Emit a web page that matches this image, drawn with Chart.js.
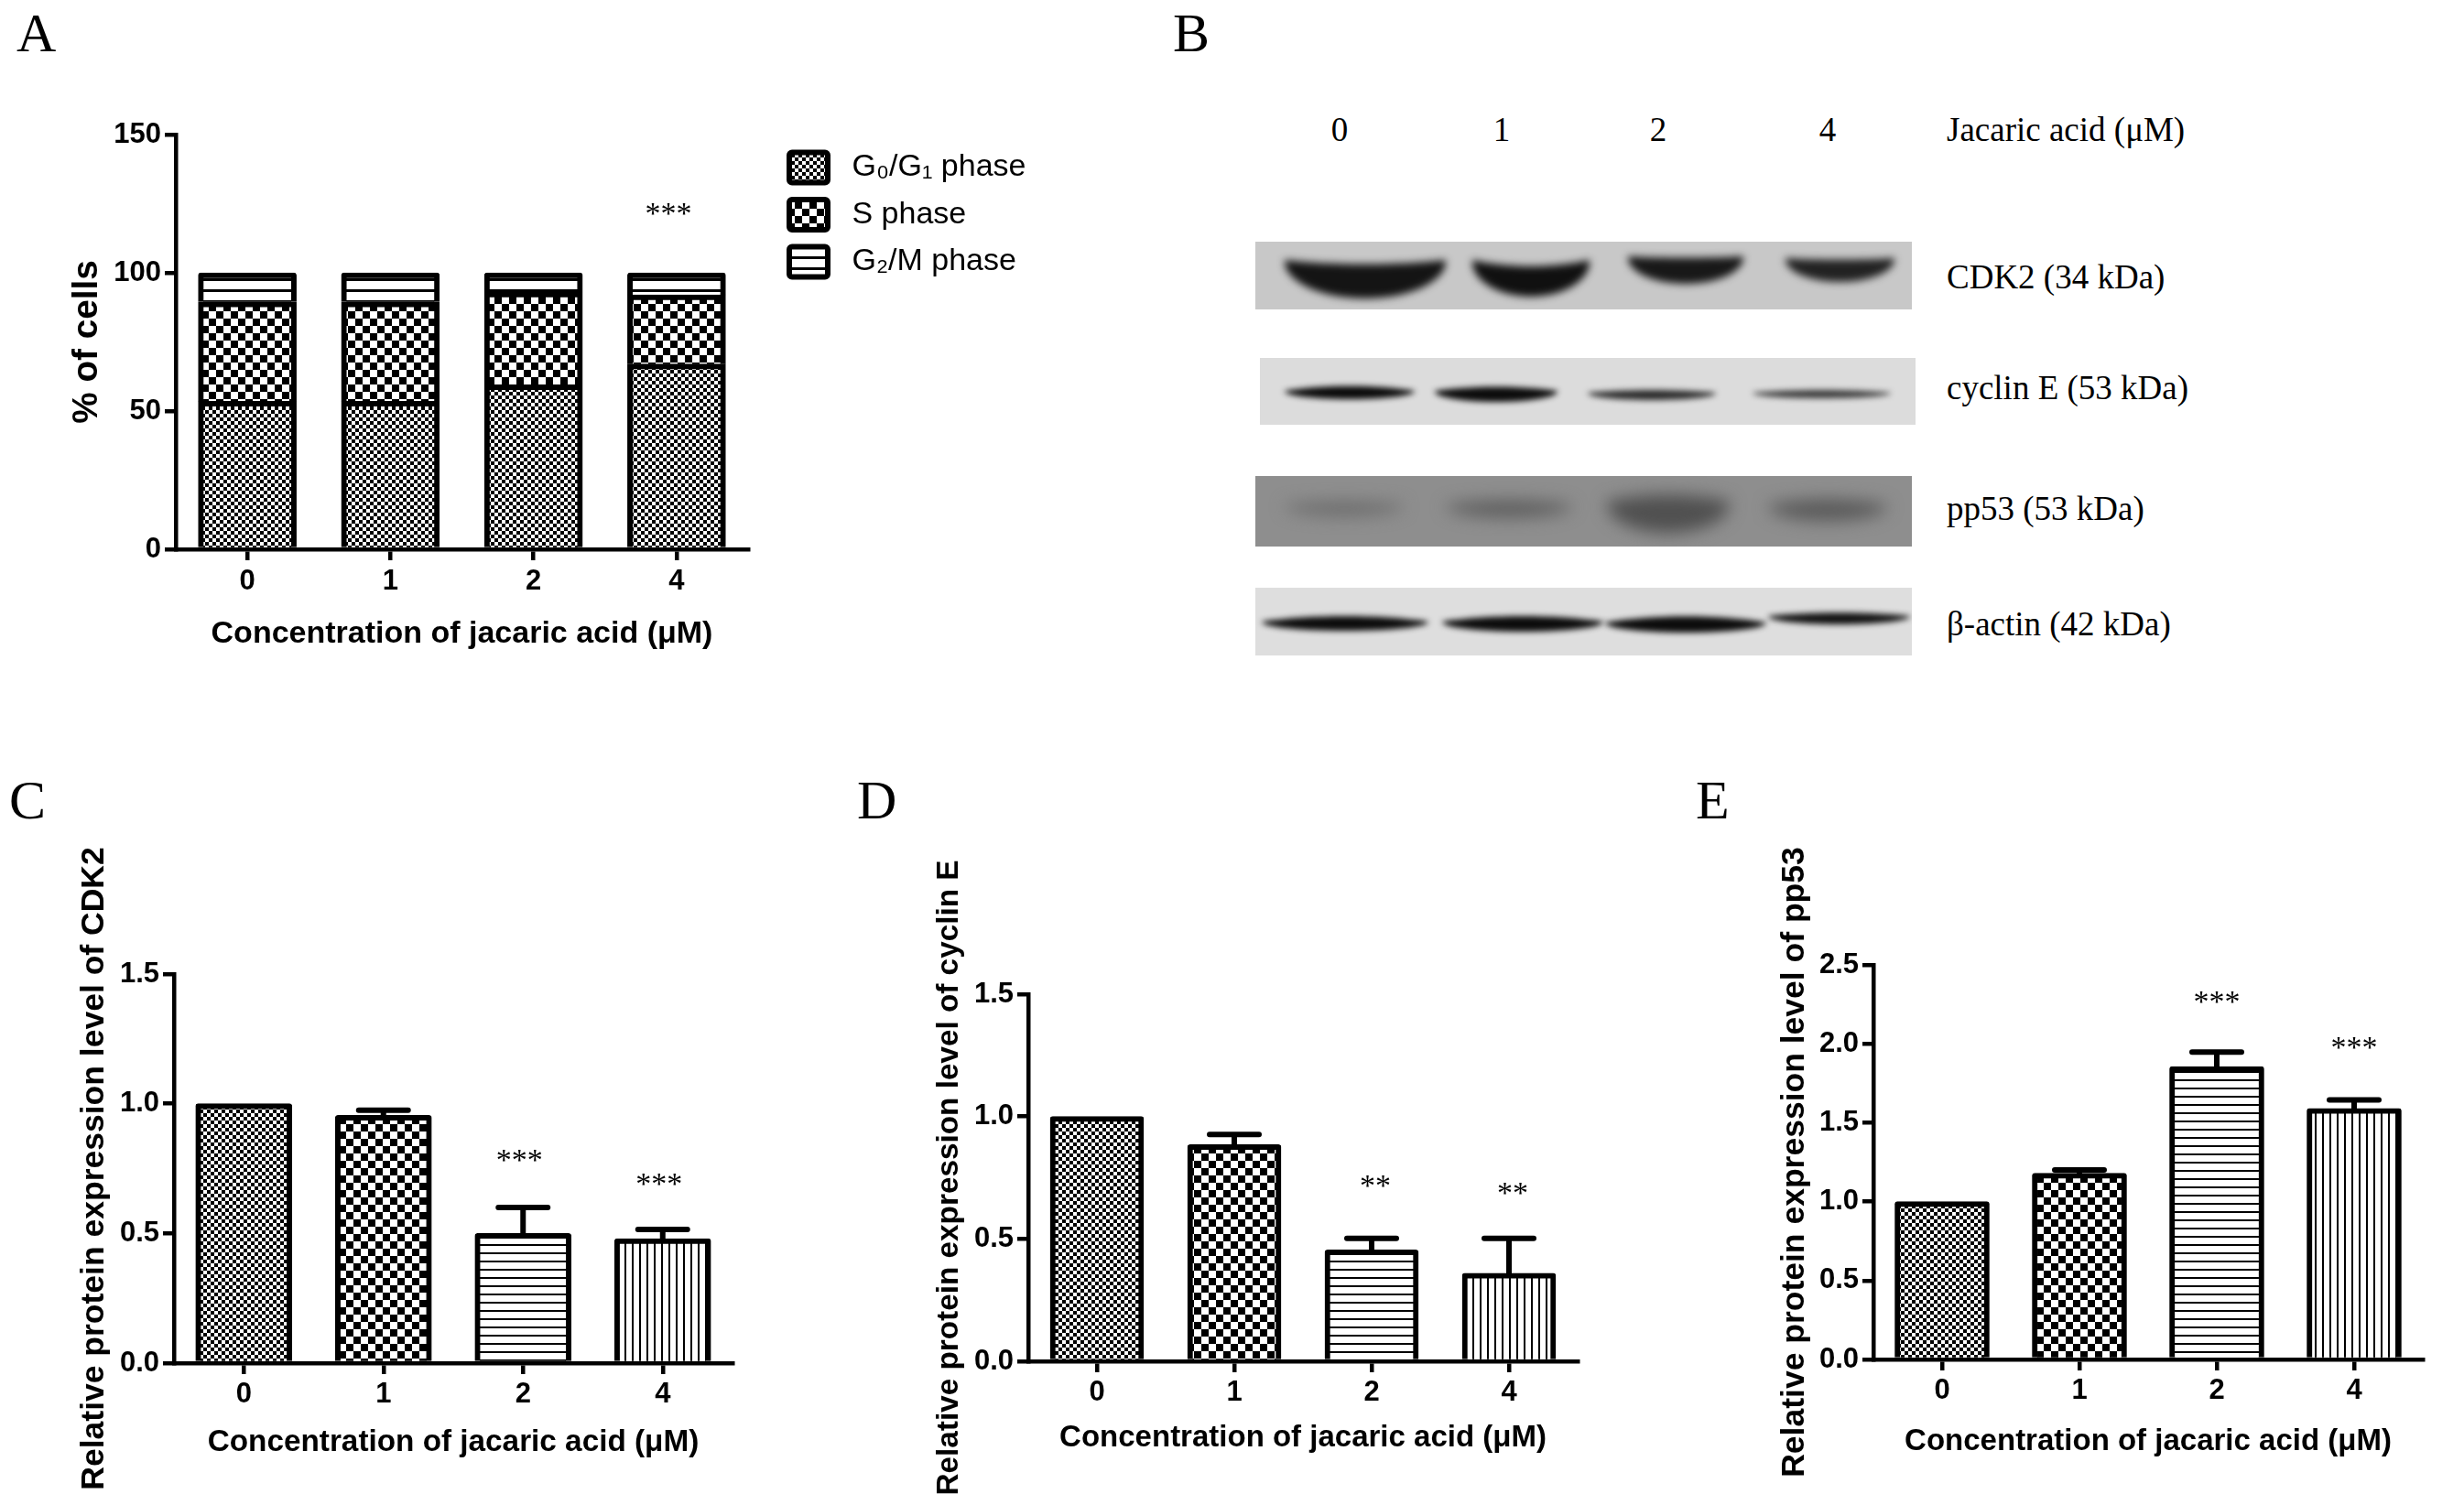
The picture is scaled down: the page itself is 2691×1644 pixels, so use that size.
<!DOCTYPE html>
<html>
<head>
<meta charset="utf-8">
<title>Jacaric acid panels</title>
<script src="https://cdn.jsdelivr.net/npm/chart.js@4"></script>
<style>
  html, body { margin: 0; background: #fff; }
  #page { position: relative; width: 2691px; height: 1644px; overflow: hidden; }
  canvas { position: absolute; }
  .letter { position: absolute; font: 60px "Liberation Serif", serif; line-height: 1; color: #000; }
  .blot { position: absolute; font: 37px "Liberation Serif", serif; color: #000; white-space: nowrap; transform: translateY(-50%); }
  .lane { transform: translate(-50%, -50%); }
</style>
</head>
<body>
<div id="page">
  <div class="letter" style="left:18px;top:6px">A</div>
  <div class="letter" style="left:1281px;top:6px">B</div>
  <div class="letter" style="left:10px;top:844px">C</div>
  <div class="letter" style="left:936px;top:844px">D</div>
  <div class="letter" style="left:1852px;top:844px">E</div>
  <canvas id="panelA" style="left:60px;top:100px" width="1106" height="630"></canvas>
  <canvas id="panelB" style="left:1360px;top:250px" width="750" height="480"></canvas>
  <canvas id="panelC" style="left:50px;top:900px" width="780" height="740"></canvas>
  <canvas id="panelD" style="left:1000px;top:900px" width="740" height="740"></canvas>
  <canvas id="panelE" style="left:1920px;top:900px" width="760" height="740"></canvas>
  <div class="blot lane" style="left:1463px;top:141px">0</div>
  <div class="blot lane" style="left:1640px;top:141px">1</div>
  <div class="blot lane" style="left:1811px;top:141px">2</div>
  <div class="blot lane" style="left:1996px;top:141px">4</div>
  <div class="blot" style="left:2126px;top:141px">Jacaric acid (μM)</div>
  <div class="blot" style="left:2126px;top:302px">CDK2 (34 kDa)</div>
  <div class="blot" style="left:2126px;top:423px">cyclin E (53 kDa)</div>
  <div class="blot" style="left:2126px;top:555px">pp53 (53 kDa)</div>
  <div class="blot" style="left:2126px;top:681px">β-actin (42 kDa)</div>
</div>
<script>
const doses = ['0', '1', '2', '4'];
const xTitle = 'Concentration of jacaric acid (μM)';

// panel A, stacked
const g0g1Values = [53.5, 53.5, 59.5, 67];
const sValues = [36, 36, 33.5, 25];
const g2mValues = [10.5, 10.5, 7, 8];
const aStars = [null, null, null, '***'];
const aStarLevels = [null, null, null, 123];

// panel C
const cdk2Values = [1.0, 0.955, 0.5, 0.48];
const cdk2Errors = [0, 0.02, 0.1, 0.035];
const cdk2Stars = [null, null, '***', '***'];
const cdk2StarLevels = [null, null, 0.798, 0.706];

// panel D
const cyclinValues = [1.0, 0.885, 0.455, 0.36];
const cyclinErrors = [0, 0.042, 0.047, 0.142];
const cyclinStars = [null, null, '**', '**'];
const cyclinStarLevels = [null, null, 0.732, 0.704];

// panel E
const pp53Values = [1.0, 1.18, 1.855, 1.59];
const pp53Errors = [0, 0.02, 0.092, 0.055];
const pp53Stars = [null, null, '***', '***'];
const pp53StarLevels = [null, null, 2.29, 2.0];

const black = '#000';
const sans = 'Liberation Sans';

function makePattern(w, h, paint) {
  const c = document.createElement('canvas');
  c.width = w;
  c.height = h;
  const g = c.getContext('2d');
  g.fillStyle = '#fff';
  g.fillRect(0, 0, w, h);
  g.fillStyle = '#000';
  paint(g);
  return document.createElement('canvas').getContext('2d').createPattern(c, 'repeat');
}
const checker = cell => makePattern(cell * 2, cell * 2, g => {
  g.fillRect(0, 0, cell, cell);
  g.fillRect(cell, cell, cell, cell);
});
const hLines = (period, line) => makePattern(4, period, g => g.fillRect(0, 0, 4, line));
const vLines = (period, line) => makePattern(period, 4, g => g.fillRect(0, 0, line, 4));

const barFills = [checker(4), checker(8), hLines(9, 2), vLines(8, 2)];

// error bars and significance stars, placed through the chart scales
const marksPlugin = {
  id: 'marks',
  afterDatasetsDraw(chart, args, opts) {
    const { ctx, scales: { x, y } } = chart;
    ctx.save();
    ctx.strokeStyle = black;
    ctx.lineCap = 'round';
    (opts.errors || []).forEach((err, i) => {
      if (!err) return;
      const cx = x.getPixelForValue(i);
      const top = y.getPixelForValue(opts.values[i] + err);
      ctx.lineWidth = 6;
      ctx.beginPath();
      ctx.moveTo(cx, y.getPixelForValue(opts.values[i]));
      ctx.lineTo(cx, top);
      ctx.moveTo(cx - opts.capWidth / 2, top);
      ctx.lineTo(cx + opts.capWidth / 2, top);
      ctx.stroke();
    });
    ctx.fillStyle = black;
    ctx.font = '34px "Liberation Serif"';
    ctx.textAlign = 'center';
    ctx.textBaseline = 'alphabetic';
    (opts.stars || []).forEach((s, i) => {
      if (!s) return;
      ctx.fillText(s, x.getPixelForValue(i) + (opts.starShift || 0), y.getPixelForValue(opts.starLevels[i]) + 15);
    });
    ctx.restore();
  }
};

// moves the legend next to the plot instead of flush with it
const legendSpot = {
  id: 'legendSpot',
  afterLayout(chart, args, opts) {
    chart.legend.left = opts.left;
    chart.legend.top = opts.top;
    chart.legend.right = opts.right;
  }
};

function axes(box, p) {
  return {
    x: {
      stacked: !!p.stacked,
      offset: true,
      afterFit: s => { s.height = box.canvasBottom - box.bottom; },
      grid: { display: true, offset: false, drawOnChartArea: false, color: black, lineWidth: 4.5, tickLength: 12, tickWidth: 4.5 },
      border: { display: true, color: black, width: 4.5 },
      ticks: { color: black, padding: p.xTickPad, maxRotation: 0, autoSkip: false, font: { family: sans, size: 31, weight: 'bold' } },
      title: { display: true, text: xTitle, color: black, font: { family: sans, size: p.xTitleSize, weight: 'bold' }, padding: { top: 0, bottom: p.xTitlePad } }
    },
    y: {
      stacked: !!p.stacked,
      min: 0,
      max: p.max,
      afterFit: s => { s.width = box.left - box.canvasLeft; },
      grid: { display: true, drawOnChartArea: false, color: black, lineWidth: 4.5, tickLength: 12, tickWidth: 4.5 },
      border: { display: true, color: black, width: 4.5 },
      ticks: {
        color: black,
        padding: 4,
        stepSize: p.step,
        callback: v => (p.decimals ? v.toFixed(p.decimals) : v),
        font: { family: sans, size: 31, weight: 'bold' }
      },
      title: { display: true, text: p.yTitle, color: black, font: { family: sans, size: p.yTitleSize, weight: 'bold' }, padding: { top: p.yTitlePad, bottom: 0 } }
    }
  };
}

function barPanel(id, box, p, values, errors, stars, starLevels) {
  new Chart(document.getElementById(id), {
    type: 'bar',
    data: {
      labels: doses,
      datasets: [{
        data: values,
        backgroundColor: barFills,
        borderColor: black,
        borderWidth: 6,
        borderRadius: 3,
        barThickness: p.barWidth
      }]
    },
    options: {
      responsive: false,
      animation: false,
      layout: { padding: { top: box.top - box.canvasTop, right: box.canvasRight - box.right, left: 0, bottom: 0 } },
      scales: axes(box, p),
      plugins: {
        legend: { display: false },
        tooltip: { enabled: false },
        marks: { values, errors, stars, starLevels, capWidth: 54, starShift: p.starShift }
      }
    },
    plugins: [marksPlugin]
  });
}

barPanel('panelC',
  { canvasLeft: 50, canvasTop: 900, canvasRight: 830, canvasBottom: 1640, left: 190, right: 800, top: 1064, bottom: 1489 },
  { max: 1.5, step: 0.5, decimals: 1, yTitle: 'Relative protein expression level of CDK2', yTitleSize: 35.5, xTitleSize: 33.3, xTickPad: 4, xTitlePad: 44, yTitlePad: 32, barWidth: 105, starShift: -4 },
  cdk2Values, cdk2Errors, cdk2Stars, cdk2StarLevels);

barPanel('panelD',
  { canvasLeft: 1000, canvasTop: 900, canvasRight: 1740, canvasBottom: 1640, left: 1123, right: 1723, top: 1086, bottom: 1487 },
  { max: 1.5, step: 0.5, decimals: 1, yTitle: 'Relative protein expression level of cyclin E', yTitleSize: 33.3, xTitleSize: 33, xTickPad: 4, xTitlePad: 49, yTitlePad: 16.5, barWidth: 102, starShift: 4 },
  cyclinValues, cyclinErrors, cyclinStars, cyclinStarLevels);

barPanel('panelE',
  { canvasLeft: 1920, canvasTop: 900, canvasRight: 2680, canvasBottom: 1640, left: 2046, right: 2646, top: 1054, bottom: 1485 },
  { max: 2.5, step: 0.5, decimals: 1, yTitle: 'Relative protein expression level of pp53', yTitleSize: 35.5, xTitleSize: 33, xTickPad: 4, xTitlePad: 45, yTitlePad: 18.5, barWidth: 103, starShift: 0 },
  pp53Values, pp53Errors, pp53Stars, pp53StarLevels);

// panel A has the legend so it gets its own config
const boxA = { canvasLeft: 60, canvasTop: 100, canvasRight: 1166, canvasBottom: 730, left: 192, right: 817, top: 147, bottom: 600 };
const stackStyle = { borderColor: black, borderWidth: 6, borderRadius: 3, barThickness: 107 };
new Chart(document.getElementById('panelA'), {
  type: 'bar',
  data: {
    labels: doses,
    datasets: [
      { label: 'G₀/G₁ phase', data: g0g1Values, backgroundColor: checker(4), ...stackStyle },
      { label: 'S phase', data: sValues, backgroundColor: checker(8), ...stackStyle },
      { label: 'G₂/M phase', data: g2mValues, backgroundColor: hLines(12, 3), ...stackStyle }
    ]
  },
  options: {
    responsive: false,
    animation: false,
    layout: { padding: { top: boxA.top - boxA.canvasTop, right: 99, left: 0, bottom: 0 } },
    scales: axes(boxA, { stacked: true, max: 150, step: 50, yTitle: '% of cells', yTitleSize: 38.7, xTitleSize: 34, xTickPad: 5, xTitlePad: 17, yTitlePad: 12.5 }),
    plugins: {
      tooltip: { enabled: false },
      legend: {
        position: 'right',
        align: 'start',
        maxWidth: 250,
        labels: {
          color: black,
          boxWidth: 42,
          boxHeight: 33,
          padding: 17.5,
          useBorderRadius: true,
          borderRadius: 3,
          font: { family: sans, size: 34 },
          // a leading space gets the gap between swatch and text
          generateLabels: c => Chart.defaults.plugins.legend.labels.generateLabels(c).map(item => ({ ...item, text: ' ' + item.text }))
        }
      },
      legendSpot: { left: 784.5, top: 48.5, right: 1100 },
      marks: { stars: aStars, starLevels: aStarLevels, starShift: -9 }
    }
  },
  plugins: [marksPlugin, legendSpot]
});

// panel B, the blot strips are a photograph so they are painted, not plotted
const blotStrips = [
  { x: 1371, y: 264, w: 717, h: 74, bg: '#c8c8c8', blur: 4 },
  { x: 1376, y: 391, w: 716, h: 73, bg: '#dcdcdc', blur: 3 },
  { x: 1371, y: 520, w: 717, h: 77, bg: '#8e8e8e', blur: 9 },
  { x: 1371, y: 642, w: 717, h: 74, bg: '#dedede', blur: 3 }
];
// x0, x1, y at the ends, top at the middle, bottom at the middle, colour
const blotBands = [
  [1403, 1579, 284, 290, 326, '#141414'], [1608, 1736, 284, 293, 324, '#101010'], [1778, 1904, 280, 282, 310, '#181818'], [1950, 2069, 282, 284, 308, '#222'],
  [1403, 1545, 427, 420, 436, '#0a0a0a'], [1567, 1701, 427, 421, 439, '#0c0c0c'], [1734, 1874, 429, 425, 437, '#2b2b2b'], [1914, 2065, 429, 425, 435, '#3a3a3a'],
  [1403, 1533, 552, 547, 563, '#6a6a6a'], [1579, 1717, 552, 545, 565, '#5d5d5d'], [1755, 1889, 548, 538, 582, '#505050'], [1931, 2061, 552, 543, 569, '#5a5a5a'],
  [1378, 1560, 679, 671, 689, '#0c0c0c'], [1575, 1751, 679, 671, 690, '#0c0c0c'], [1753, 1929, 680, 671, 691, '#0c0c0c'], [1931, 2086, 673, 668, 682, '#121212']
];
(function paintBlot() {
  const ctx = document.getElementById('panelB').getContext('2d');
  ctx.translate(-1360, -250);
  blotStrips.forEach((s, row) => {
    ctx.save();
    ctx.beginPath();
    ctx.rect(s.x, s.y, s.w, s.h);
    ctx.clip();
    ctx.fillStyle = s.bg;
    ctx.fillRect(s.x, s.y, s.w, s.h);
    ctx.filter = `blur(${s.blur}px)`;
    blotBands.slice(row * 4, row * 4 + 4).forEach(([x0, x1, yEnd, yTop, yBot, col]) => {
      const mid = (x0 + x1) / 2;
      const reach = (x1 - x0) * 0.3;
      ctx.fillStyle = col;
      ctx.beginPath();
      ctx.moveTo(x0, yEnd);
      ctx.bezierCurveTo(x0 + reach, yTop, x1 - reach, yTop, x1, yEnd);
      ctx.bezierCurveTo(x1 + 2, (yEnd + yBot) / 2, mid + reach, yBot, mid, yBot);
      ctx.bezierCurveTo(mid - reach, yBot, x0 - 2, (yEnd + yBot) / 2, x0, yEnd);
      ctx.fill();
    });
    ctx.restore();
  });
})();
</script>
</body>
</html>
